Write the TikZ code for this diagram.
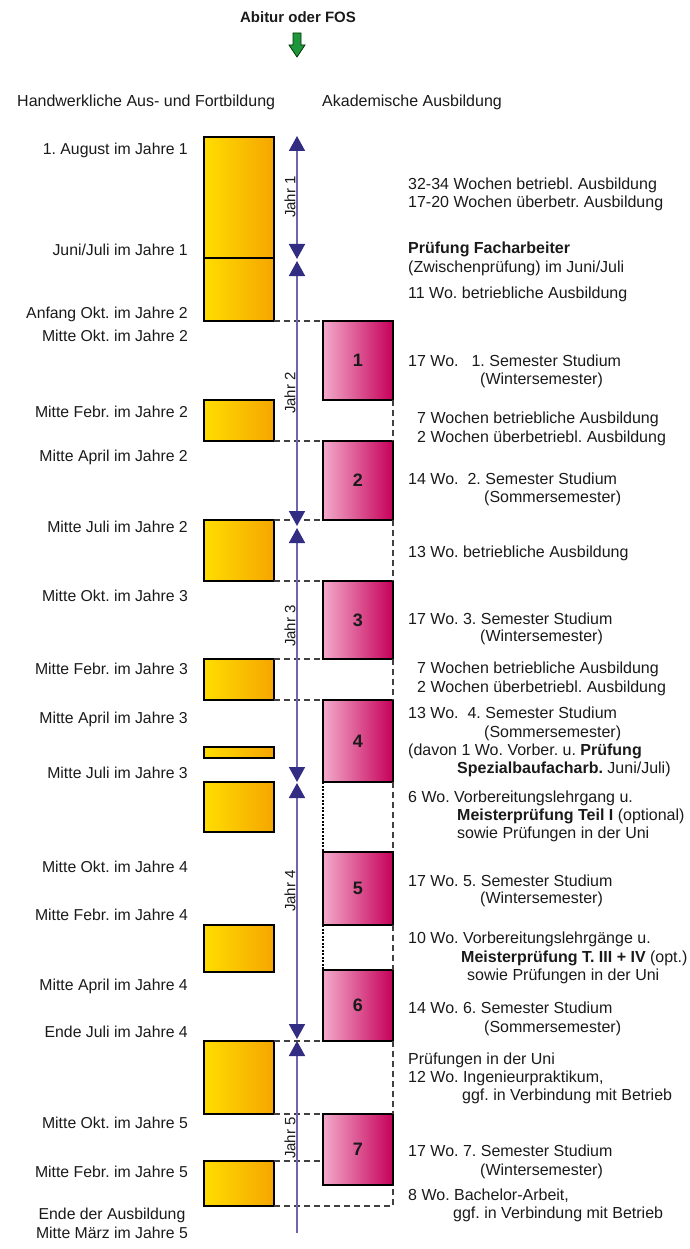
\documentclass[tikz,border=0pt]{standalone}
\usepackage{fontspec}
\setmainfont{Liberation Sans}
\usetikzlibrary{arrows.meta}
\definecolor{yelL}{HTML}{FFDD00}
\definecolor{yelR}{HTML}{F5A500}
\definecolor{pinkL}{HTML}{F2AACA}
\definecolor{pinkR}{HTML}{C6005A}
\definecolor{axisline}{HTML}{6E64AF}
\definecolor{axistip}{HTML}{322D82}
\definecolor{arrgreen}{HTML}{1E963C}
\definecolor{txt}{HTML}{1A1A1A}
\definecolor{dashgray}{HTML}{404040}
\newcommand\mkY[3]{\node[ybox, minimum height=#3] (#1) at (204,#2) {};}
\newcommand\mkP[4]{\node[pbox, minimum height=#3] (#1) at (323,#2) {#4};}
\newcommand\rt[4]{\node[rtext] (#1) at (#2,#3) {#4};}
\newcommand\lt[3]{\node[ltext] (#1) at (188,#2) {#3};}
\begin{document}
\frenchspacing
\begin{tikzpicture}[x=1pt,y=-1pt,
  ybox/.style={draw=black, line width=2.6pt, left color=yelL, right color=yelR,
    anchor=north west, minimum width=70pt, inner sep=0pt, outer sep=0pt},
  pbox/.style={draw=black, line width=2.6pt, left color=pinkL, right color=pinkR,
    anchor=north west, minimum width=70pt, inner sep=0pt, outer sep=0pt,
    font=\fontsize{18}{20}\selectfont\bfseries, text=txt},
  rtext/.style={anchor=base west, yshift=-5.5pt, inner sep=0pt, font=\fontsize{16}{18}\selectfont, text=txt},
  ltext/.style={anchor=base east, yshift=-6pt, inner sep=0pt, font=\fontsize{15.8}{18}\selectfont, text=txt},
  dline/.style={draw=dashgray, line width=1.2pt, dash pattern=on 6pt off 4pt},
  dotline/.style={draw=black, line width=1.4pt, dash pattern=on 2pt off 1.5pt},
  yearax/.style={draw=axisline, line width=1.8pt,
    arrows={Triangle[width=16pt,length=15pt,color=axistip]-Triangle[width=16pt,length=15pt,color=axistip]}},
  yearlbl/.style={rotate=90, inner sep=0pt, font=\fontsize{15}{17}\selectfont, text=txt}
]
\useasboundingbox (0,0) rectangle (689,1249);

% title and headers
\node[font=\fontsize{15}{17}\selectfont\bfseries, text=txt, inner sep=0pt, anchor=base] (title) at (298,23) {Abitur oder FOS};
\draw[fill=arrgreen, draw=black!80!green, line width=0.8pt]
  (293,33) -- (301,33) -- (301,45) -- (305,45) -- (297,57) -- (289,45) -- (293,45) -- cycle;
\node[rtext, yshift=-0.5pt] (h1) at (17,101) {Handwerkliche Aus- und Fortbildung};
\node[rtext, yshift=-0.5pt] (h2) at (322,101) {Akademische Ausbildung};

% yellow boxes
\mkY{yA}{137}{121}
\mkY{yB}{258}{63}
\mkY{yC}{400}{41}
\mkY{yD}{520}{61}
\mkY{yE}{659}{41}
\mkY{yF}{747}{11}
\mkY{yG}{782}{50}
\mkY{yH}{925}{47}
\mkY{yI}{1041}{73}
\mkY{yJ}{1161}{45}

% pink boxes
\mkP{p1}{321}{79}{1}
\mkP{p2}{441}{79}{2}
\mkP{p3}{581}{78}{3}
\mkP{p4}{700}{82}{4}
\mkP{p5}{852}{73}{5}
\mkP{p6}{970}{71}{6}
\mkP{p7}{1114}{71}{7}

% dashed connectors
\draw[dline] (yB.south east) -- (yB.south east -| p1.west);
\draw[dline] (yC.south east) -- (yC.south east -| p2.west);
\draw[dline] (yD.north east) -- (yD.north east -| p2.west);
\draw[dline] (yD.south east) -- (yD.south east -| p3.west);
\draw[dline] (yE.north east) -- (yE.north east -| p3.west);
\draw[dline] (yE.south east) -- (yE.south east -| p4.west);
\draw[dline] (yI.north east) -- (yI.north east -| p6.west);
\draw[dline] (yI.south east) -- (yI.south east -| p7.west);
\draw[dline] (yJ.north east) -- (yJ.north east -| p7.west);
\draw[dline] (yJ.south east) -- (yJ.south east -| p7.east) -- (p7.south east);
\draw[dline] (p1.south east) -- (p2.north east);
\draw[dline] (p2.south east) -- (p3.north east);
\draw[dline] (p3.south east) -- (p4.north east);
\draw[dline] (p4.south east) -- (p5.north east);
\draw[dline] (p5.south east) -- (p6.north east);
\draw[dline] (p6.south east) -- (p7.north east);
\draw[dotline] (p4.south west) -- (p5.north west);
\draw[dotline] (p5.south west) -- (p6.north west);

% time axis
\coordinate (a0) at (297,136);
\coordinate (a1) at (297,259);
\coordinate (a2) at (297,261);
\coordinate (a3) at (297,526);
\coordinate (a4) at (297,528);
\coordinate (a5) at (297,782);
\coordinate (a6) at (297,783);
\coordinate (a7) at (297,1039);
\coordinate (a8) at (297,1041);
\coordinate (a9) at (297,1233);
\draw[yearax] (a0) -- (a1);
\draw[yearax] (a2) -- (a3);
\draw[yearax] (a4) -- (a5);
\draw[yearax] (a6) -- (a7);
\draw[draw=axisline, line width=1.8pt, arrows={Triangle[width=16pt,length=15pt,color=axistip]-}] (a8) -- (a9);
\node[yearlbl] (j1) at (290,197) {Jahr 1};
\node[yearlbl] (j2) at (290,393) {Jahr 2};
\node[yearlbl] (j3) at (290,626) {Jahr 3};
\node[yearlbl] (j4) at (290,891) {Jahr 4};
\node[yearlbl] (j5) at (290,1138) {Jahr 5};

% left labels
\lt{l1}{149}{1. August im Jahre 1}
\lt{l2}{249}{Juni/Juli im Jahre 1}
\lt{l3}{312}{Anfang Okt. im Jahre 2}
\lt{l4}{335}{Mitte Okt. im Jahre 2}
\lt{l5}{411}{Mitte Febr. im Jahre 2}
\lt{l6}{455}{Mitte April im Jahre 2}
\lt{l7}{526}{Mitte Juli im Jahre 2}
\lt{l8}{595}{Mitte Okt. im Jahre 3}
\lt{l9}{668}{Mitte Febr. im Jahre 3}
\lt{l10}{717}{Mitte April im Jahre 3}
\lt{l11}{772}{Mitte Juli im Jahre 3}
\lt{l12}{866}{Mitte Okt. im Jahre 4}
\lt{l13}{914}{Mitte Febr. im Jahre 4}
\lt{l14}{984}{Mitte April im Jahre 4}
\lt{l15}{1031}{Ende Juli im Jahre 4}
\lt{l16}{1122}{Mitte Okt. im Jahre 5}
\lt{l17}{1171}{Mitte Febr. im Jahre 5}
\node[ltext, anchor=base] (l18) at (112,1213) {Ende der Ausbildung};
\node[ltext, anchor=base] (l19) at (112,1232) {Mitte März im Jahre 5};

% right texts
\rt{r1a}{408}{184}{32-34 Wochen betriebl. Ausbildung}
\rt{r1b}{408}{202}{17-20 Wochen überbetr. Ausbildung}
\rt{r2a}{408}{248}{\textbf{Prüfung Facharbeiter}}
\rt{r2b}{408}{267}{(Zwischenprüfung) im Juni/Juli}
\rt{r3}{408}{293}{11 Wo. betriebliche Ausbildung}
\rt{r4a}{408}{361}{17 Wo.\hspace{13pt}1. Semester Studium}
\rt{r4b}{480}{379}{(Wintersemester)}
\rt{r5a}{417}{418}{7 Wochen betriebliche Ausbildung}
\rt{r5b}{417}{437}{2 Wochen überbetriebl. Ausbildung}
\rt{r6a}{408}{479}{14 Wo.\hspace{9pt}2. Semester Studium}
\rt{r6b}{484}{497}{(Sommersemester)}
\rt{r7}{408}{552}{13 Wo. betriebliche Ausbildung}
\rt{r8a}{408}{619}{17 Wo. 3. Semester Studium}
\rt{r8b}{480}{636}{(Wintersemester)}
\rt{r9a}{417}{668}{7 Wochen betriebliche Ausbildung}
\rt{r9b}{417}{687}{2 Wochen überbetriebl. Ausbildung}
\rt{r10a}{408}{713}{13 Wo.\hspace{9pt}4. Semester Studium}
\rt{r10b}{484}{732}{(Sommersemester)}
\rt{r10c}{408}{750}{(davon 1 Wo. Vorber. u. \textbf{Prüfung}}
\rt{r10d}{457}{768}{\textbf{Spezialbaufacharb.} Juni/Juli)}
\rt{r11a}{408}{797}{6 Wo. Vorbereitungslehrgang u.}
\rt{r11b}{457}{815}{\textbf{Meisterprüfung Teil I} (optional)}
\rt{r11c}{457}{833}{sowie Prüfungen in der Uni}
\rt{r12a}{408}{881}{17 Wo. 5. Semester Studium}
\rt{r12b}{480}{898}{(Wintersemester)}
\rt{r13a}{408}{938}{10 Wo. Vorbereitungslehrgänge u.}
\rt{r13b}{461}{957}{\textbf{Meisterprüfung T. III + IV} (opt.)}
\rt{r13c}{467}{975}{sowie Prüfungen in der Uni}
\rt{r14a}{408}{1008}{14 Wo. 6. Semester Studium}
\rt{r14b}{484}{1027}{(Sommersemester)}
\rt{r15a}{408}{1059}{Prüfungen in der Uni}
\rt{r15b}{408}{1077}{12 Wo. Ingenieurpraktikum,}
\rt{r15c}{462}{1095}{ggf. in Verbindung mit Betrieb}
\rt{r16a}{408}{1151}{17 Wo. 7. Semester Studium}
\rt{r16b}{480}{1170}{(Wintersemester)}
\rt{r17a}{408}{1195}{8 Wo. Bachelor-Arbeit,}
\rt{r17b}{453}{1213}{ggf. in Verbindung mit Betrieb}
\end{tikzpicture}
\end{document}
